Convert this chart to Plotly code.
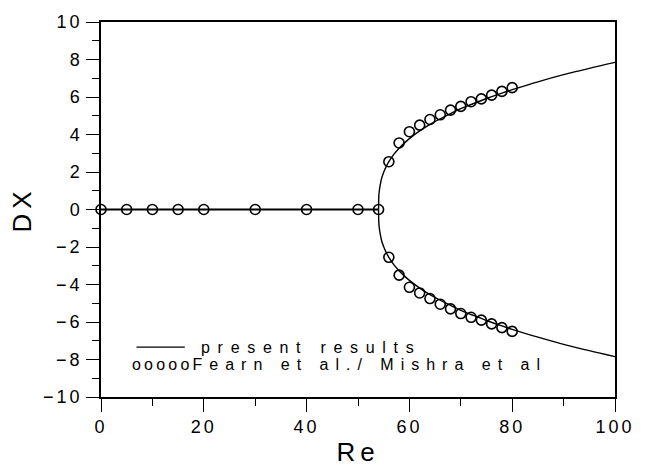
import plotly.graph_objects as go

# ---- data ----
# present results (computed curve)
flat_re = [0, 54]
flat_dx = [0, 0]
branch_re = [54, 54.05, 54.15, 54.35, 54.6, 55, 55.5, 56, 57, 58, 59, 60, 62, 64, 66,
             68, 70, 72, 75, 78, 80, 85, 90, 95, 100]
branch_up = [0, 0.7, 1.0, 1.35, 1.67, 1.99, 2.3, 2.55, 2.95, 3.27, 3.54, 3.78, 4.19, 4.54,
             4.84, 5.11, 5.38, 5.6, 5.92, 6.21, 6.39, 6.81, 7.19, 7.53, 7.85]
branch_low = [-v for v in branch_up]

# Fearn et al. / Mishra et al. (symbols)
ref_zero_re = [0, 5, 10, 15, 20, 30, 40, 50, 54]
ref_zero_dx = [0, 0, 0, 0, 0, 0, 0, 0, 0]
ref_re = [56, 58, 60, 62, 64, 66, 68, 70, 72, 74, 76, 78, 80]
ref_up = [2.55, 3.55, 4.15, 4.5, 4.8, 5.05, 5.3, 5.5, 5.75, 5.9, 6.1, 6.3, 6.5]
ref_low = [-2.55, -3.5, -4.15, -4.45, -4.75, -5.05, -5.3, -5.55, -5.75, -5.9, -6.1, -6.3, -6.5]

x_ticks = [0, 20, 40, 60, 80, 100]
y_ticks = [-10, -8, -6, -4, -2, 0, 2, 4, 6, 8, 10]

FONT = "Liberation Sans"
INK = "black"


def spaced(s, ls):
    return f'<span style="letter-spacing:{ls}px">{s}</span>'


def num(v):
    return str(v).replace("-", "\u2212")


fig = go.Figure()
line_style = dict(color=INK, width=1.4)
fig.add_trace(go.Scatter(x=flat_re, y=flat_dx, mode="lines",
                         line=dict(color=INK, width=2), showlegend=False))
fig.add_trace(go.Scatter(x=branch_re, y=branch_up, mode="lines", line=line_style,
                         line_shape="spline", showlegend=False))
fig.add_trace(go.Scatter(x=branch_re, y=branch_low, mode="lines", line=line_style,
                         line_shape="spline", showlegend=False))
marker_style = dict(symbol="circle-open", size=10, color=INK, line=dict(width=1.6, color=INK))
for xs, ys in [(ref_zero_re, ref_zero_dx), (ref_re, ref_up), (ref_re, ref_low)]:
    fig.add_trace(go.Scatter(x=xs, y=ys, mode="markers", marker=marker_style,
                             showlegend=False, cliponaxis=False))

axis_common = dict(showline=True, linecolor=INK, linewidth=1.5, mirror=True,
                   showgrid=False, zeroline=False, ticks="outside", tickcolor=INK,
                   tickwidth=1.3, ticklen=13,
                   tickfont=dict(family=FONT, size=18, color=INK))

fig.update_xaxes(range=[0, 100], tickvals=x_ticks,
                 ticktext=[spaced(num(v), 3) for v in x_ticks],
                 minor=dict(dtick=10, ticks="outside", ticklen=7, tickcolor=INK, tickwidth=1.3),
                 title=dict(text=spaced("Re", 5), font=dict(family=FONT, size=26, color=INK),
                            standoff=6),
                 **axis_common)
fig.update_yaxes(range=[-10, 10], tickvals=y_ticks,
                 ticktext=[spaced(num(v), 3) for v in y_ticks],
                 minor=dict(dtick=1, ticks="outside", ticklen=7, tickcolor=INK, tickwidth=1.3),
                 title=dict(text=spaced("DX", 5), font=dict(family=FONT, size=26, color=INK),
                            standoff=4),
                 **axis_common)

# hand-drawn legend in the lower-left corner
fig.add_shape(type="line", xref="paper", yref="paper", x0=0.069, x1=0.163,
              y0=0.133, y1=0.133, line=dict(color=INK, width=1.4))
fig.add_annotation(xref="paper", yref="paper", x=0.19, y=0.133, xanchor="left",
                   yanchor="middle", showarrow=False,
                   text=spaced("present results", 7.7),
                   font=dict(family=FONT, size=16, color=INK))
fig.add_annotation(xref="paper", yref="paper", x=0.056, y=0.087, xanchor="left",
                   yanchor="middle", showarrow=False,
                   text=spaced("ooooo", 3.2) + spaced("Fearn et al./ Mishra et al", 7),
                   font=dict(family=FONT, size=16, color=INK))

fig.update_layout(width=647, height=474, autosize=False,
                  margin=dict(l=101, r=26, t=16, b=68),
                  plot_bgcolor="white", paper_bgcolor="white",
                  font=dict(family=FONT, color=INK), showlegend=False)

fig.write_html("out.html")
